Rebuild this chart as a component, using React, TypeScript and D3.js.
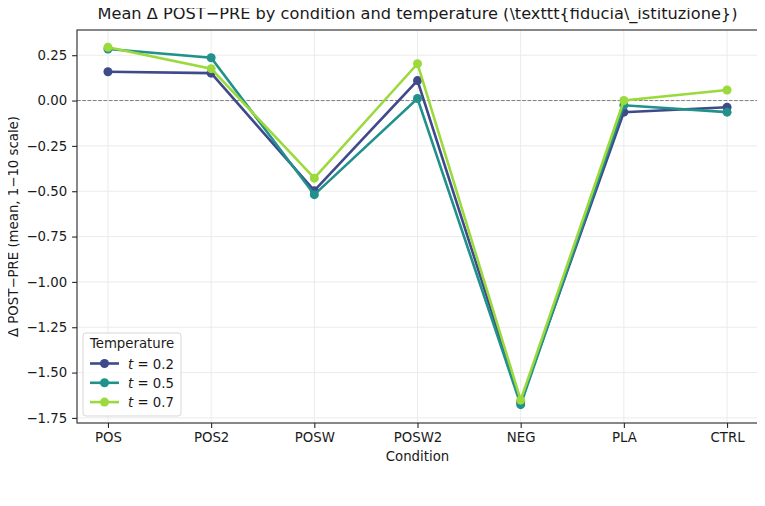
import React, { useEffect, useRef } from 'react'
import * as d3 from 'd3'

// Data
const conditions = ['POS', 'POS2', 'POSW', 'POSW2', 'NEG', 'PLA', 'CTRL']
const temps = ['0.2', '0.5', '0.7']
const t02 = [0.159, 0.151, -0.497, 0.11, -1.662, -0.064, -0.037]
const t05 = [0.284, 0.236, -0.519, 0.011, -1.677, -0.026, -0.064]
const t07 = [0.294, 0.176, -0.428, 0.203, -1.652, 0.0, 0.058]
const yTicks = [0.25, 0, -0.25, -0.5, -0.75, -1, -1.25, -1.5, -1.75]
const colors = ['#3f4a8a', '#21918c', '#9bd93c']

const App = () => {
  const ref = useRef<SVGSVGElement | null>(null)

  useEffect(() => {
    const svg = d3.select(ref.current)
    svg.selectAll('*').remove()

    const font = 'DejaVu Sans, sans-serif'
    const fs = 13.3
    const m = { left: 77, right: 758, top: 30, bottom: 423 }
    const series = [t02, t05, t07]

    const x = d3.scaleLinear().domain([-0.3, 6.3]).range([m.left, m.right])
    const y = d3.scaleLinear().domain([-1.778, 0.389]).range([m.bottom, m.top])

    const g = svg.append('g')

    // grid
    g.selectAll('line.vg')
      .data(conditions)
      .enter()
      .append('line')
      .attr('x1', (d, i) => x(i))
      .attr('x2', (d, i) => x(i))
      .attr('y1', m.top)
      .attr('y2', m.bottom)
      .attr('stroke', '#ebebeb')
      .attr('stroke-width', 1)
    g.selectAll('line.hg')
      .data(yTicks)
      .enter()
      .append('line')
      .attr('x1', m.left)
      .attr('x2', m.right)
      .attr('y1', d => y(d))
      .attr('y2', d => y(d))
      .attr('stroke', '#ebebeb')
      .attr('stroke-width', 1)

    // zero line
    g.append('line')
      .attr('x1', m.left)
      .attr('x2', m.right)
      .attr('y1', y(0))
      .attr('y2', y(0))
      .attr('stroke', '#808080')
      .attr('stroke-width', 1)
      .attr('stroke-dasharray', '3.7,1.6')

    // lines + markers
    const line = d3
      .line<number>()
      .x((d, i) => x(i))
      .y(d => y(d))
    series.forEach((s, k) => {
      g.append('path')
        .datum(s)
        .attr('d', line)
        .attr('fill', 'none')
        .attr('stroke', colors[k])
        .attr('stroke-width', 2.6)
      g.selectAll(`circle.s${k}`)
        .data(s)
        .enter()
        .append('circle')
        .attr('cx', (d, i) => x(i))
        .attr('cy', d => y(d))
        .attr('r', 4.5)
        .attr('fill', colors[k])
    })

    // frame
    g.append('rect')
      .attr('x', m.left)
      .attr('y', m.top)
      .attr('width', m.right - m.left)
      .attr('height', m.bottom - m.top)
      .attr('fill', 'none')
      .attr('stroke', '#262626')
      .attr('stroke-width', 1.1)

    // axes
    const xAxis = g
      .append('g')
      .attr('transform', `translate(0,${m.bottom})`)
      .call(
        d3
          .axisBottom(x)
          .tickValues(d3.range(conditions.length))
          .tickFormat(i => conditions[i as number])
          .tickSize(4.9)
          .tickPadding(4.9)
      )
    const yAxis = g
      .append('g')
      .attr('transform', `translate(${m.left},0)`)
      .call(
        d3
          .axisLeft(y)
          .tickValues(yTicks)
          .tickFormat(d => d3.format('.2f')(d as number).replace('-', '\u2212'))
          .tickSize(4.9)
          .tickPadding(4.9)
      )
    ;[xAxis, yAxis].forEach(a => {
      a.select('.domain').remove()
      a.selectAll('line').attr('stroke', '#262626').attr('stroke-width', 1.1)
      a.selectAll('text').attr('font-family', font).attr('font-size', fs).attr('fill', '#1a1a1a')
    })

    // labels
    svg
      .append('text')
      .attr('x', (m.left + m.right) / 2)
      .attr('y', 19)
      .attr('text-anchor', 'middle')
      .attr('font-family', font)
      .attr('font-size', 16.2)
      .attr('fill', '#1a1a1a')
      .text('Mean \u0394 POST\u2212PRE by condition and temperature (\\texttt{fiducia\\_istituzione})')
    svg
      .append('text')
      .attr('x', (m.left + m.right) / 2)
      .attr('y', 461)
      .attr('text-anchor', 'middle')
      .attr('font-family', font)
      .attr('font-size', fs)
      .attr('fill', '#1a1a1a')
      .text('Condition')
    svg
      .append('text')
      .attr('transform', `translate(18,${(m.top + m.bottom) / 2}) rotate(-90)`)
      .attr('text-anchor', 'middle')
      .attr('font-family', font)
      .attr('font-size', fs)
      .attr('fill', '#1a1a1a')
      .text('\u0394 POST\u2212PRE (mean, 1\u221210 scale)')

    // legend
    const lg = svg.append('g').attr('transform', 'translate(83,333)')
    lg.append('rect')
      .attr('width', 98)
      .attr('height', 83)
      .attr('rx', 3)
      .attr('fill', 'white')
      .attr('fill-opacity', 0.8)
      .attr('stroke', '#d6d6d6')
    lg.append('text')
      .attr('x', 49)
      .attr('y', 15)
      .attr('text-anchor', 'middle')
      .attr('font-family', font)
      .attr('font-size', fs)
      .attr('fill', '#1a1a1a')
      .text('Temperature')
    temps.forEach((t, k) => {
      const yy = 30.5 + k * 19.3
      lg.append('line')
        .attr('x1', 7)
        .attr('x2', 36)
        .attr('y1', yy)
        .attr('y2', yy)
        .attr('stroke', colors[k])
        .attr('stroke-width', 2.6)
      lg.append('circle').attr('cx', 21.5).attr('cy', yy).attr('r', 4.5).attr('fill', colors[k])
      const tx = lg
        .append('text')
        .attr('x', 45)
        .attr('y', yy + 5)
        .attr('font-family', font)
        .attr('font-size', fs)
        .attr('fill', '#1a1a1a')
      tx.append('tspan').attr('font-style', 'italic').text('t')
      tx.append('tspan').text(` = ${t}`)
    })
  }, [])

  return (
    <div>
      <svg ref={ref} width={765} height={506} style={{ display: 'block', margin: -8 }} />
    </div>
  )
}

export default App
